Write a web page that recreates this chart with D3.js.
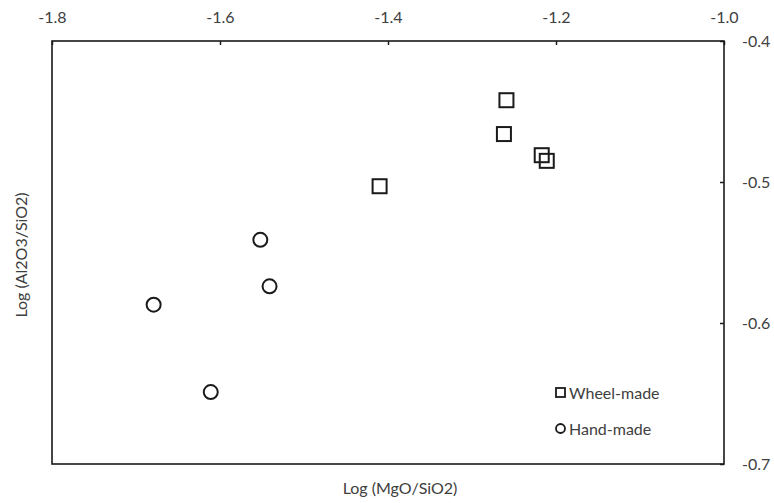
<!DOCTYPE html>
<html><head><meta charset="utf-8">
<script src="https://cdn.jsdelivr.net/npm/d3@7"></script>
<style>body{margin:0;background:#fff}</style>
</head><body>
<svg id="c" width="774" height="503"></svg>
<script>
const xTicks = [-1.8, -1.6, -1.4, -1.2, -1.0];
const yTicks = [-0.4, -0.5, -0.6, -0.7];
const wheelX = [-1.259, -1.262, -1.217, -1.211, -1.410];
const wheelY = [-0.442, -0.466, -0.481, -0.485, -0.503];
const handX = [-1.552, -1.541, -1.679, -1.611];
const handY = [-0.541, -0.574, -0.587, -0.649];
const seriesNames = ["Wheel-made", "Hand-made"];
const xTitle = "Log (MgO/SiO2)";
const yTitle = "Log (Al2O3/SiO2)";

const svg = d3.select("#c");
const font = "Lato, 'Open Sans', sans-serif";
const fs = 16;
const txt = "#404040";
const L = 52, R = 724, T = 41, B = 464;
const x = d3.scaleLinear().domain([-1.8, -1.0]).range([L, R]);
const y = d3.scaleLinear().domain([-0.7, -0.4]).range([B, T]);
const fmt = d => d3.format(".1f")(d).replace("\u2212", "-");

// frame
svg.append("rect").attr("x", L).attr("y", T).attr("width", R - L).attr("height", B - T)
  .attr("fill", "none").attr("stroke", "#1a1a1a").attr("stroke-width", 1.6);

// top axis
const xa = svg.append("g").attr("transform", `translate(0,${T})`)
  .call(d3.axisTop(x).tickValues(xTicks).tickSize(-4).tickPadding(18).tickFormat(fmt));
xa.select(".domain").remove();
xa.selectAll("line").attr("stroke", "#1a1a1a").attr("stroke-width", 1.5);
xa.selectAll("text").attr("font-family", font).attr("font-size", fs).attr("fill", txt);

// right axis
const ya = svg.append("g").attr("transform", `translate(${R},0)`)
  .call(d3.axisRight(y).tickValues(yTicks).tickSize(-4).tickPadding(18).tickFormat(fmt));
ya.select(".domain").remove();
ya.selectAll("line").attr("stroke", "#1a1a1a").attr("stroke-width", 1.5);
ya.selectAll("text").attr("font-family", font).attr("font-size", fs).attr("fill", txt);

// titles
svg.append("text").attr("x", 400).attr("y", 494).attr("text-anchor", "middle")
  .attr("font-family", font).attr("font-size", fs).attr("fill", txt).text(xTitle);
svg.append("text").attr("transform", "translate(27,255) rotate(-90)").attr("text-anchor", "middle")
  .attr("font-family", font).attr("font-size", fs).attr("fill", txt).text(yTitle);

// data
const wheel = wheelX.map((v, i) => ({x: v, y: wheelY[i]}));
const hand = handX.map((v, i) => ({x: v, y: handY[i]}));
const s = 14;
svg.append("g").selectAll("rect").data(wheel).join("rect")
  .attr("x", d => x(d.x) - s / 2).attr("y", d => y(d.y) - s / 2)
  .attr("width", s).attr("height", s)
  .attr("fill", "none").attr("stroke", "#1a1a1a").attr("stroke-width", 2);
svg.append("g").selectAll("circle").data(hand).join("circle")
  .attr("cx", d => x(d.x)).attr("cy", d => y(d.y)).attr("r", 7)
  .attr("fill", "none").attr("stroke", "#1a1a1a").attr("stroke-width", 2);

// legend
const lg = svg.append("g");
lg.append("rect").attr("x", 556).attr("y", 388).attr("width", 9).attr("height", 9)
  .attr("fill", "none").attr("stroke", "#1a1a1a").attr("stroke-width", 1.8);
lg.append("circle").attr("cx", 560.5).attr("cy", 428.5).attr("r", 4.5)
  .attr("fill", "none").attr("stroke", "#1a1a1a").attr("stroke-width", 1.8);
lg.append("text").attr("x", 569).attr("y", 398.5).attr("font-family", font).attr("font-size", fs)
  .attr("fill", txt).text(seriesNames[0]);
lg.append("text").attr("x", 569).attr("y", 434.5).attr("font-family", font).attr("font-size", fs)
  .attr("fill", txt).text(seriesNames[1]);
</script>
</body></html>
